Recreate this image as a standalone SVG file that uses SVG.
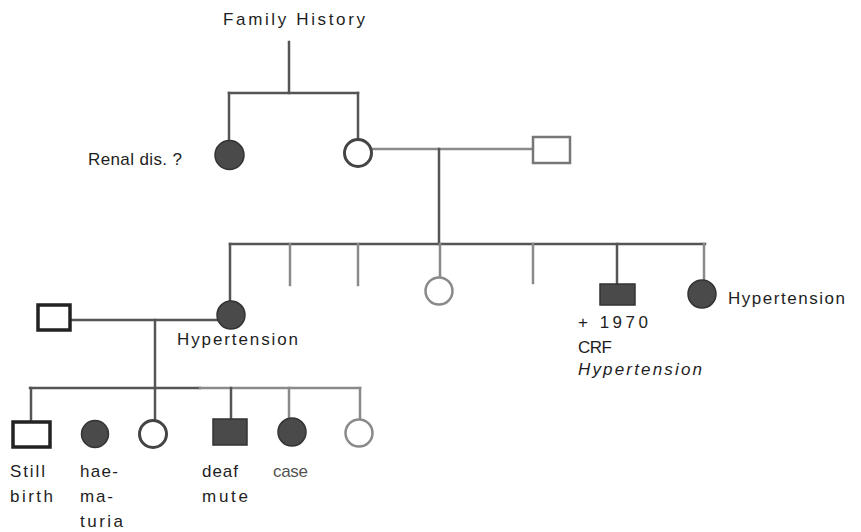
<svg xmlns="http://www.w3.org/2000/svg" width="861" height="532" viewBox="0 0 861 532">
<style>
  .t { font-family: "Liberation Sans", Arial, sans-serif; font-size: 17px; fill: #1e1e1e; }
  .it { font-style: italic; }
  .ln { stroke: #555; stroke-width: 2.5; fill: none; stroke-linecap: square; }
  .lt { stroke: #8a8a8a; stroke-width: 2.5; fill: none; stroke-linecap: square; }
  .open { fill: #fff; stroke: #444; stroke-width: 3; }
  .openlt { fill: #fff; stroke: #8a8a8a; stroke-width: 2.5; }
  .sq { fill: #fff; stroke: #222; stroke-width: 3.5; }
  .sqlt { fill: #fff; stroke: #777; stroke-width: 2.5; }
  .fill { fill: #4a4a4a; stroke: #333; stroke-width: 1.5; }
</style>
<rect width="861" height="532" fill="#fff"/>

<text class="t" x="223" y="25" font-size="18" textLength="142" lengthAdjust="spacing">Family History</text>

<g id="connectors">
  <!-- generation 1 -->
  <path class="ln" d="M289 42 V93"/>
  <path class="ln" d="M229 93 H358"/>
  <path class="ln" d="M229 93 V140"/>
  <path class="ln" d="M358 93 V139"/>
  <path class="lt" d="M372 149 H533"/>
  <path class="ln" d="M439 149 V244"/>
  <!-- generation 2 sibship -->
  <path class="ln" d="M230 244 H705"/>
  <path class="ln" d="M230 244 V301"/>
  <path class="lt" d="M290 244 V285"/>
  <path class="lt" d="M358 244 V285"/>
  <path class="lt" d="M440 244 V277"/>
  <path class="lt" d="M533 244 V283"/>
  <path class="ln" d="M617 244 V284"/>
  <path class="lt" d="M704 244 V280"/>
  <!-- generation 2 marriage -->
  <path class="ln" d="M70 320 H217"/>
  <path class="ln" d="M155 320 V388"/>
  <!-- generation 3 sibship -->
  <path class="ln" d="M30 388 H200"/>
  <path class="lt" d="M200 388 H360"/>
  <path class="ln" d="M31 388 V422"/>
  <path class="ln" d="M155 388 V420"/>
  <path class="ln" d="M231 388 V419"/>
  <path class="lt" d="M289 388 V418"/>
  <path class="lt" d="M360 388 V419"/>
</g>

<g id="renal-aunt">
  <circle class="fill" cx="229.5" cy="155" r="14.5"/>
  <text class="t" x="88" y="165" textLength="94" lengthAdjust="spacing">Renal dis. ?</text>
</g>
<g id="grandmother">
  <circle class="open" cx="358" cy="153" r="13.5"/>
</g>
<g id="grandfather">
  <rect class="sqlt" x="533" y="137" width="37" height="26"/>
</g>

<g id="mother">
  <circle class="fill" cx="231" cy="315" r="14"/>
  <text class="t" x="177" y="345" textLength="121" lengthAdjust="spacing">Hypertension</text>
</g>
<g id="father">
  <rect class="sq" x="38" y="305" width="32" height="25"/>
</g>
<g id="aunt-open">
  <circle class="openlt" cx="439" cy="291" r="13.5"/>
</g>
<g id="uncle-crf">
  <rect class="fill" x="600" y="284" width="35" height="21"/>
  <text class="t" x="578" y="328" textLength="70" lengthAdjust="spacing">+ 1970</text>
  <text class="t" x="578" y="353" textLength="34" lengthAdjust="spacing">CRF</text>
  <text class="t it" x="578" y="375" textLength="124" lengthAdjust="spacing">Hypertension</text>
</g>
<g id="aunt-hypertension">
  <circle class="fill" cx="702" cy="294" r="14"/>
  <text class="t" x="728" y="304" textLength="117" lengthAdjust="spacing">Hypertension</text>
</g>

<g id="still-birth">
  <rect class="sq" x="13" y="422" width="37" height="25"/>
  <text class="t" x="10" y="477" textLength="35" lengthAdjust="spacing">Still</text>
  <text class="t" x="10" y="502" textLength="43" lengthAdjust="spacing">birth</text>
</g>
<g id="haematuria">
  <circle class="fill" cx="95" cy="434" r="13.5"/>
  <text class="t" x="80" y="477" textLength="38" lengthAdjust="spacing">hae-</text>
  <text class="t" x="80" y="502" textLength="33" lengthAdjust="spacing">ma-</text>
  <text class="t" x="80" y="527" textLength="43" lengthAdjust="spacing">turia</text>
</g>
<g id="sister-open">
  <circle class="open" cx="153" cy="434" r="13.5"/>
</g>
<g id="deaf-mute">
  <rect class="fill" x="213" y="419" width="34" height="26"/>
  <text class="t" x="202" y="477" textLength="36" lengthAdjust="spacing">deaf</text>
  <text class="t" x="202" y="502" textLength="46" lengthAdjust="spacing">mute</text>
</g>
<g id="case">
  <circle class="fill" cx="292" cy="432" r="14"/>
  <text class="t" x="273" y="477" textLength="35" lengthAdjust="spacing" fill-opacity="0.8">case</text>
</g>
<g id="sister-open-2">
  <circle class="openlt" cx="359" cy="433" r="13.5"/>
</g>
</svg>
